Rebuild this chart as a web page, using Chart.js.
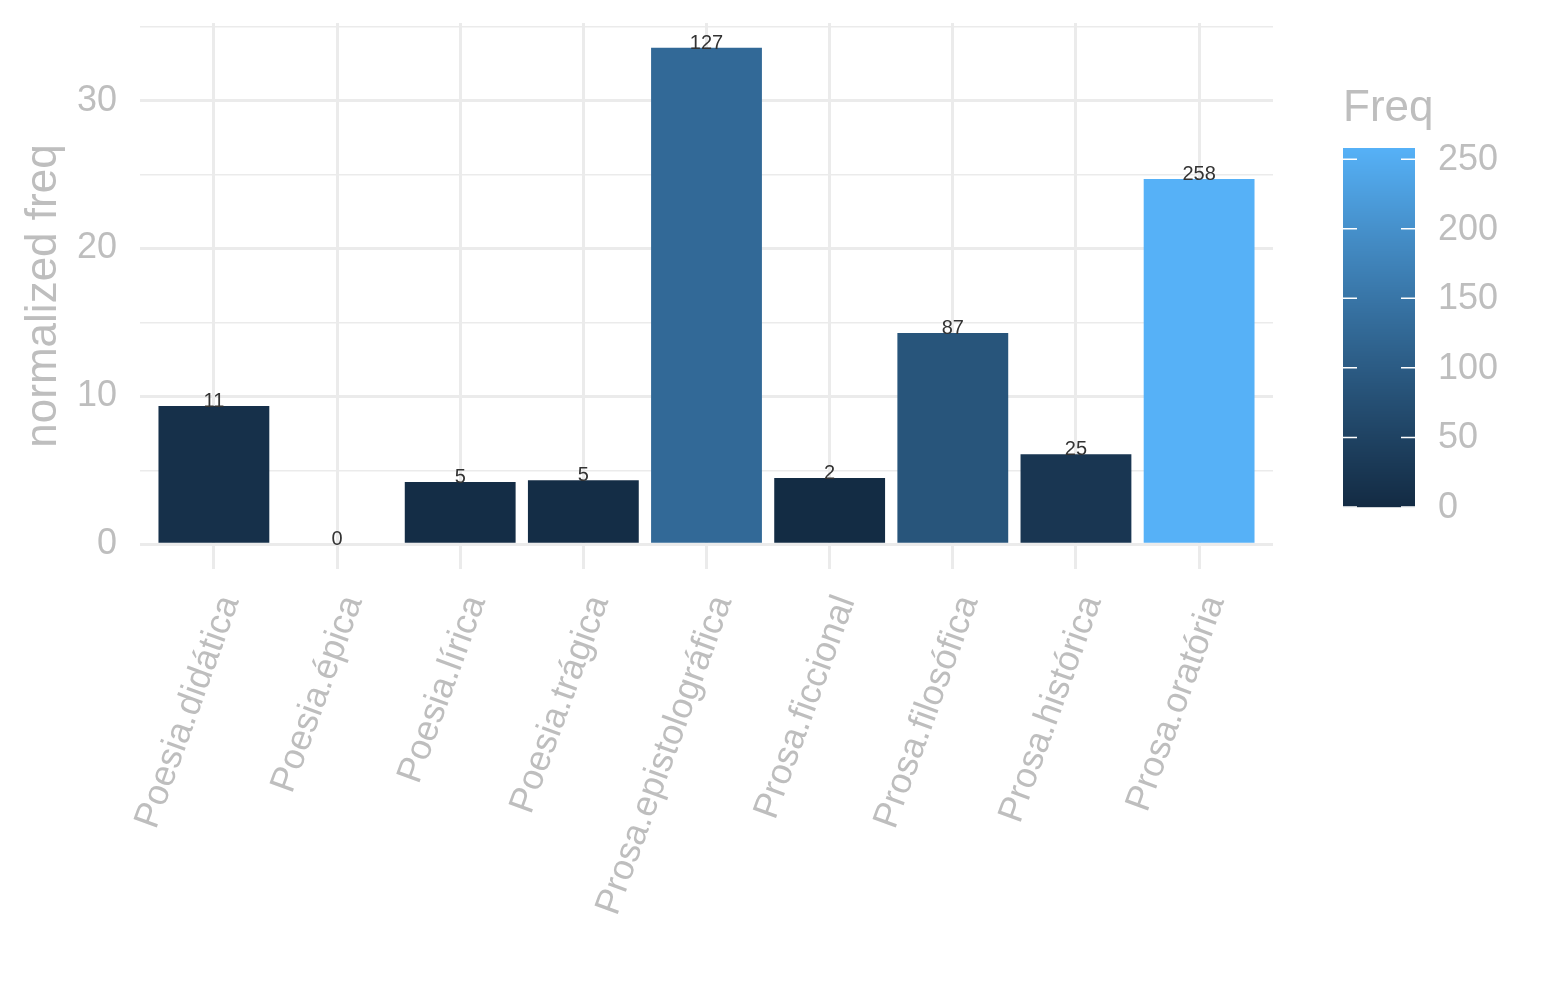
<!DOCTYPE html>
<html lang="en">
  <head>
    <meta charset="UTF-8" />
    <title>normalized freq por gênero</title>
    <script src="https://cdn.jsdelivr.net/npm/chart.js"></script>
    <style>
      body {
        margin: 0;
        background-color: #fff;
      }
      .wrap {
        width: 1545px;
        height: 1000px;
        position: relative;
      }
    </style>
  </head>
  <body>
    <div class="wrap"><canvas id="freqChart"></canvas></div>

    <script>
      const genres = [
        'Poesia.didática',
        'Poesia.épica',
        'Poesia.lírica',
        'Poesia.trágica',
        'Prosa.epistolográfica',
        'Prosa.ficcional',
        'Prosa.filosófica',
        'Prosa.histórica',
        'Prosa.oratória',
      ];
      const normFreq = [9.34, 0, 4.2, 4.33, 33.58, 4.47, 14.29, 6.09, 24.71];
      const rawFreq = [11, 0, 5, 5, 127, 2, 87, 25, 258];
      const yGridTicks = [0, 5, 10, 15, 20, 25, 30, 35];
      const yLabelTicks = [0, 10, 20, 30];
      const freqTicks = [0, 50, 100, 150, 200, 250];

      const textGrey = '#BEBEBE';
      const gridGrey = '#EBEBEB';
      const fontFamily = '"Liberation Sans", Arial, sans-serif';

      // ggplot default gradient, interpolated in CIELAB
      const lowHex = '#132B43';
      const highHex = '#56B1F7';

      function hexToLab(hex) {
        const rgb = [1, 3, 5].map((i) => parseInt(hex.substr(i, 2), 16) / 255);
        const lin = rgb.map((c) =>
          c <= 0.04045 ? c / 12.92 : Math.pow((c + 0.055) / 1.055, 2.4)
        );
        const X = (lin[0] * 0.4124 + lin[1] * 0.3576 + lin[2] * 0.1805) / 0.95047;
        const Y = lin[0] * 0.2126 + lin[1] * 0.7152 + lin[2] * 0.0722;
        const Z = (lin[0] * 0.0193 + lin[1] * 0.1192 + lin[2] * 0.9505) / 1.08883;
        const f = (t) => (t > 0.008856 ? Math.cbrt(t) : 7.787 * t + 16 / 116);
        return [116 * f(Y) - 16, 500 * (f(X) - f(Y)), 200 * (f(Y) - f(Z))];
      }

      function labToHex(lab) {
        const fy = (lab[0] + 16) / 116;
        const fx = fy + lab[1] / 500;
        const fz = fy - lab[2] / 200;
        const inv = (t) => (t * t * t > 0.008856 ? t * t * t : (t - 16 / 116) / 7.787);
        const X = inv(fx) * 0.95047;
        const Y = inv(fy);
        const Z = inv(fz) * 1.08883;
        const lin = [
          X * 3.2406 - Y * 1.5372 - Z * 0.4986,
          -X * 0.9689 + Y * 1.8758 + Z * 0.0415,
          X * 0.0557 - Y * 0.204 + Z * 1.057,
        ];
        return (
          '#' +
          lin
            .map((c) => {
              c = c <= 0.0031308 ? 12.92 * c : 1.055 * Math.pow(c, 1 / 2.4) - 0.055;
              const v = Math.round(Math.min(1, Math.max(0, c)) * 255);
              return v.toString(16).padStart(2, '0');
            })
            .join('')
        );
      }

      const lowLab = hexToLab(lowHex);
      const highLab = hexToLab(highHex);
      const freqMin = Math.min(...rawFreq);
      const freqMax = Math.max(...rawFreq);

      function freqColour(v) {
        const t = (v - freqMin) / (freqMax - freqMin);
        return labToHex(lowLab.map((l, i) => l + (highLab[i] - l) * t));
      }

      // ggplot-like expansion: 5% on y, 0.6 units each side on the discrete x
      const dataMax = Math.max(...normFreq);
      const yMin = -0.05 * dataMax;
      const yMax = dataMax * 1.05;
      const xMin = -0.6;
      const xMax = genres.length - 1 + 0.6;

      // numbers on top of the bars
      const barLabels = {
        id: 'barLabels',
        afterDatasetsDraw(chart) {
          const ctx = chart.ctx;
          const meta = chart.getDatasetMeta(0);
          ctx.save();
          ctx.font = '20px ' + fontFamily;
          ctx.fillStyle = '#333333';
          ctx.textAlign = 'center';
          ctx.textBaseline = 'alphabetic';
          meta.data.forEach((bar, i) => {
            ctx.fillText(String(rawFreq[i]), bar.x, bar.y + 1);
          });
          ctx.restore();
        },
      };

      // colourbar legend on the right
      const colourBar = {
        id: 'colourBar',
        afterDraw(chart) {
          const ctx = chart.ctx;
          const left = 1343;
          const width = 72;
          const top = 148;
          const bottom = 507;
          const toY = (v) => bottom - ((v - freqMin) / (freqMax - freqMin)) * (bottom - top);
          ctx.save();
          for (let y = top; y < bottom; y++) {
            const v = freqMin + ((bottom - y - 0.5) / (bottom - top)) * (freqMax - freqMin);
            ctx.fillStyle = freqColour(v);
            ctx.fillRect(left, y, width, 1.2);
          }
          ctx.strokeStyle = '#ffffff';
          ctx.lineWidth = 1.5;
          ctx.font = '36px ' + fontFamily;
          ctx.fillStyle = textGrey;
          ctx.textAlign = 'left';
          ctx.textBaseline = 'middle';
          freqTicks.forEach((t) => {
            const y = toY(t);
            ctx.beginPath();
            ctx.moveTo(left, y);
            ctx.lineTo(left + 14, y);
            ctx.moveTo(left + width - 14, y);
            ctx.lineTo(left + width, y);
            ctx.stroke();
            ctx.fillText(String(t), 1438, y + 1);
          });
          ctx.font = '44px ' + fontFamily;
          ctx.textBaseline = 'alphabetic';
          ctx.fillText('Freq', 1343, 121);
          ctx.restore();
        },
      };

      new Chart(document.getElementById('freqChart'), {
        type: 'bar',
        data: {
          datasets: [
            {
              data: normFreq.map((v, i) => ({ x: i, y: v })),
              backgroundColor: rawFreq.map(freqColour),
              barPercentage: 0.9,
              categoryPercentage: 1,
            },
          ],
        },
        options: {
          responsive: true,
          maintainAspectRatio: false,
          animation: false,
          layout: { padding: { top: 0, right: 272, left: 0, bottom: 0 } },
          plugins: {
            legend: { display: false },
            tooltip: { enabled: false },
          },
          scales: {
            x: {
              type: 'linear',
              min: xMin,
              max: xMax,
              offset: false,
              grid: { offset: false, color: gridGrey, lineWidth: 3, drawTicks: false },
              border: { display: false },
              afterBuildTicks: (scale) => {
                scale.ticks = genres.map((_, i) => ({ value: i }));
              },
              ticks: {
                autoSkip: false,
                minRotation: 70,
                maxRotation: 70,
                padding: 21,
                labelOffset: 16,
                color: textGrey,
                font: { family: fontFamily, size: 36 },
                callback: (v) => genres[v],
              },
              afterFit: (scale) => {
                scale.height = 431;
                scale.paddingLeft = 0;
                scale.paddingRight = 0;
              },
            },
            y: {
              min: yMin,
              max: yMax,
              grid: {
                color: gridGrey,
                lineWidth: (c) => (yLabelTicks.includes(c.tick.value) ? 3 : 1.5),
                drawTicks: false,
              },
              border: { display: false },
              afterBuildTicks: (scale) => {
                scale.ticks = yGridTicks.map((v) => ({ value: v }));
              },
              ticks: {
                padding: 23,
                color: textGrey,
                font: { family: fontFamily, size: 36 },
                callback: (v) => (yLabelTicks.includes(v) ? String(v) : ''),
              },
              title: {
                display: true,
                text: 'normalized freq',
                color: textGrey,
                font: { family: fontFamily, size: 44 },
                padding: { top: 17, bottom: 0 },
              },
              afterFit: (scale) => {
                scale.width = 140;
                scale.paddingTop = 23;
                scale.paddingBottom = 0;
              },
            },
          },
        },
        plugins: [barLabels, colourBar],
      });
    </script>
  </body>
</html>
